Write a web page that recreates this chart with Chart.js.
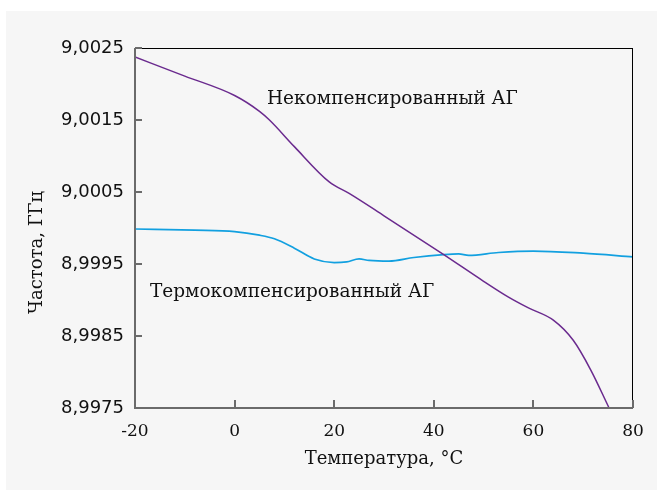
<!DOCTYPE html>
<html lang="ru">
<head>
<meta charset="UTF-8" />
<title>Частота от температуры</title>
<script src="https://cdn.jsdelivr.net/npm/chart.js"></script>
<style>
    html, body { margin: 0; padding: 0; background: #ffffff; }
    #box {
        position: absolute;
        left: 6px;
        top: 11px;
        width: 651px;
        height: 479px;
        background: #f6f6f6;
    }
</style>
</head>
<body>
<div id="box"><canvas id="freqChart"></canvas></div>

<script>
    // температура, °C
    const xTicks = [-20, 0, 20, 40, 60, 80];
    // частота, ГГц
    const yTicks = [8.9975, 8.9985, 8.9995, 9.0005, 9.0015, 9.0025];

    // некомпенсированный АГ
    const uncompT = [-20, -10, 0, 5, 7, 12, 19, 23, 30, 42, 50, 55, 59, 64, 68, 71.5, 75.2];
    const uncompF = [9.002375, 9.00211, 9.00184, 9.00162, 9.0015, 9.00113, 9.00064, 9.00048, 9.00017,
                     8.99963, 8.99926, 8.99904, 8.99889, 8.99872, 8.99844, 8.99803, 8.9975];

    // термокомпенсированный АГ
    const compT = [-20, -8, 0, 5, 8, 12, 16, 20, 22.5, 25, 27, 31, 36, 42, 45, 47, 53, 60, 70, 80];
    const compF = [8.999986, 8.99997, 8.99995, 8.9999, 8.99985, 8.99972, 8.99957, 8.99952, 8.99953,
                   8.99957, 8.99955, 8.99954, 8.99959, 8.99963, 8.99964, 8.99962, 8.99966, 8.99968,
                   8.99965, 8.9996];

    const labelNotes = [
        { text: 'Некомпенсированный АГ', t: 6.5, f: 9.00172 },
        { text: 'Термокомпенсированный АГ', t: -17, f: 8.99904 }
    ];

    const serif = "'DejaVu Serif', serif";

    function toPoints(xs, ys) {
        return xs.map((x, i) => ({ x: x, y: ys[i] }));
    }

    const framePlugin = {
        id: 'frame',
        afterDraw(chart) {
            const { ctx, chartArea: a, scales } = chart;
            const l = Math.round(a.left), t = Math.round(a.top);
            const r = Math.round(a.right), b = Math.round(a.bottom);
            ctx.save();
            // верх и право — тонкая чёрная линия
            ctx.fillStyle = '#000000';
            ctx.fillRect(l, t, r - l, 1);
            ctx.fillRect(r - 1, t, 1, b - t);
            // лево и низ — серые оси
            ctx.fillStyle = '#6b6b6b';
            ctx.fillRect(l - 1, t, 2, b - t + 1);
            ctx.fillRect(l - 1, b - 1, r - l + 1, 2);
            // засечки внутрь
            yTicks.forEach((v) => {
                const y = Math.round(scales.y.getPixelForValue(v));
                ctx.fillRect(l, y - 1, 7, 2);
            });
            xTicks.forEach((v) => {
                const x = Math.round(scales.x.getPixelForValue(v));
                ctx.fillRect(x - 1, b - 8, 2, 8);
            });
            // подписи кривых
            ctx.fillStyle = '#111111';
            ctx.font = '18.5px ' + serif;
            ctx.textAlign = 'left';
            ctx.textBaseline = 'alphabetic';
            labelNotes.forEach((n) => {
                ctx.fillText(n.text, scales.x.getPixelForValue(n.t), scales.y.getPixelForValue(n.f));
            });
            // подпись оси Y
            ctx.font = '18px ' + serif;
            ctx.textAlign = 'center';
            ctx.textBaseline = 'middle';
            ctx.translate(31, a.top + (a.bottom - a.top) * 0.568);
            ctx.rotate(-Math.PI / 2);
            ctx.fillText('Частота, ГГц', 0, 0);
            ctx.restore();
        }
    };

    new Chart(document.getElementById('freqChart'), {
        type: 'scatter',
        data: {
            datasets: [
                {
                    label: 'Некомпенсированный АГ',
                    data: toPoints(uncompT, uncompF),
                    showLine: true,
                    borderColor: '#6a2a8e',
                    borderWidth: 1.5,
                    pointRadius: 0,
                    cubicInterpolationMode: 'monotone'
                },
                {
                    label: 'Термокомпенсированный АГ',
                    data: toPoints(compT, compF),
                    showLine: true,
                    borderColor: '#12a0e0',
                    borderWidth: 1.7,
                    pointRadius: 0,
                    cubicInterpolationMode: 'monotone'
                }
            ]
        },
        options: {
            responsive: true,
            maintainAspectRatio: false,
            animation: false,
            layout: { padding: { top: 37, right: 24, left: 0, bottom: 0 } },
            plugins: {
                legend: { display: false },
                tooltip: { enabled: false }
            },
            scales: {
                x: {
                    type: 'linear',
                    min: -20,
                    max: 80,
                    afterBuildTicks: (s) => { s.ticks = xTicks.map((v) => ({ value: v })); },
                    afterFit: (s) => { s.height = 82; },
                    grid: { display: false, drawTicks: false },
                    border: { display: false },
                    ticks: {
                        color: '#111111',
                        font: { family: serif, size: 17 },
                        padding: 13,
                        maxRotation: 0
                    },
                    title: {
                        display: true,
                        text: 'Температура, °C',
                        color: '#111111',
                        font: { family: serif, size: 18 },
                        padding: { top: 0, bottom: 20 }
                    }
                },
                y: {
                    type: 'linear',
                    min: 8.9975,
                    max: 9.0025,
                    afterBuildTicks: (s) => { s.ticks = yTicks.map((v) => ({ value: v })); },
                    afterFit: (s) => { s.width = 129; },
                    grid: { display: false, drawTicks: false },
                    border: { display: false },
                    ticks: {
                        color: '#111111',
                        font: { family: "'DejaVu Sans', sans-serif", size: 18 },
                        padding: 11,
                        callback: (v) => v.toFixed(4).replace('.', ',')
                    }
                }
            }
        },
        plugins: [framePlugin]
    });
</script>
</body>
</html>
